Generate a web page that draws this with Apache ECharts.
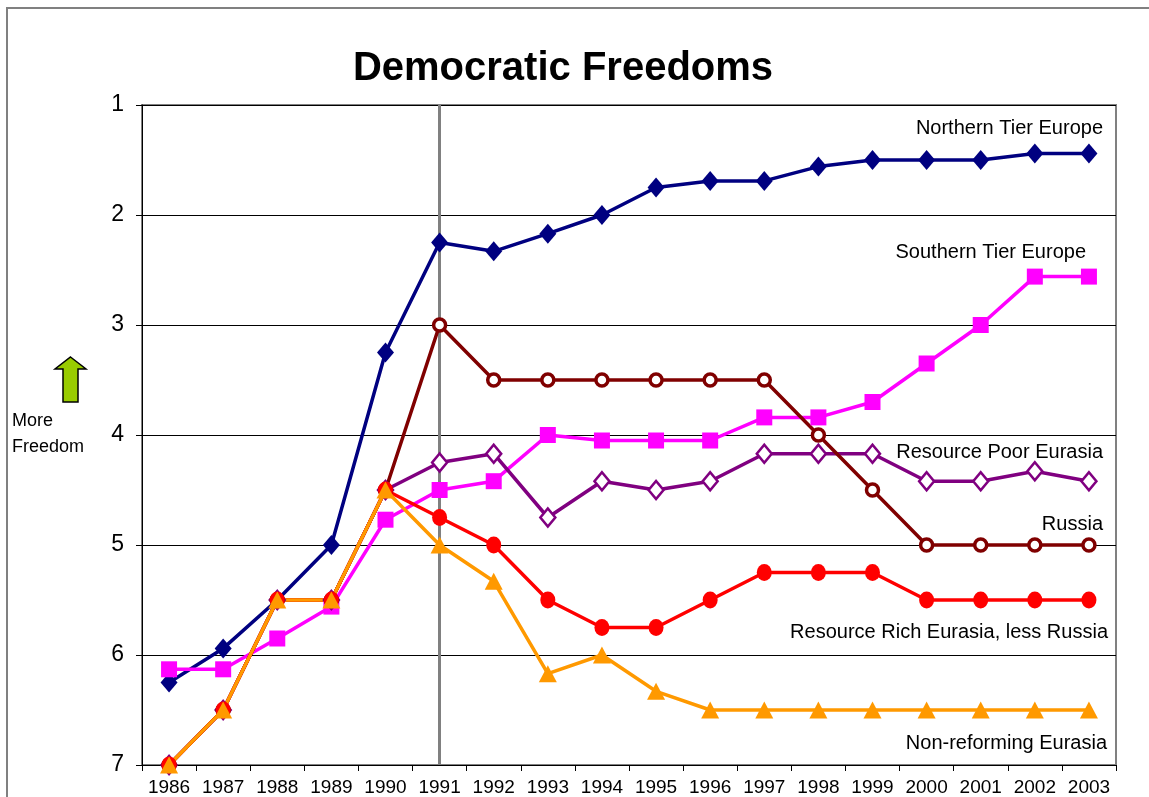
<!DOCTYPE html>
<html>
<head>
<meta charset="utf-8">
<script src="https://cdn.jsdelivr.net/npm/echarts@6/dist/echarts.min.js"></script>
<style>
html,body{margin:0;padding:0;background:#fff;}
#chart{width:1149px;height:797px;}
</style>
</head>
<body>
<div id="chart"></div>
<script>
const years = ['1986','1987','1988','1989','1990','1991','1992','1993','1994','1995','1996','1997','1998','1999','2000','2001','2002','2003'];
const yTicks = [1,2,3,4,5,6,7];
const northernTier = [6.25,5.94,5.5,5.0,3.25,2.25,2.33,2.17,2.0,1.75,1.69,1.69,1.56,1.5,1.5,1.5,1.44,1.44];
const southernTier = [6.13,6.13,5.85,5.56,4.77,4.5,4.42,4.0,4.05,4.05,4.05,3.84,3.84,3.7,3.35,3.0,2.56,2.56];
const resourcePoor = [7,6.5,5.5,5.5,4.5,4.25,4.17,4.75,4.42,4.5,4.42,4.17,4.17,4.17,4.42,4.42,4.33,4.42];
const russia = [7,6.5,5.5,5.5,4.5,3.0,3.5,3.5,3.5,3.5,3.5,3.5,4.0,4.5,5.0,5.0,5.0,5.0];
const resourceRich = [7,6.5,5.5,5.5,4.5,4.75,5.0,5.5,5.75,5.75,5.5,5.25,5.25,5.25,5.5,5.5,5.5,5.5];
const nonReforming = [7,6.5,5.5,5.5,4.5,5.0,5.33,6.17,6.0,6.33,6.5,6.5,6.5,6.5,6.5,6.5,6.5,6.5];
const seriesNames = ['Northern Tier Europe','Southern Tier Europe','Resource Poor Eurasia','Russia','Resource Rich Eurasia, less Russia','Non-reforming Eurasia'];
const dividerYear = '1991';

const FONT = '"Liberation Sans", Arial, sans-serif';
const chart = echarts.init(document.getElementById('chart'), null, {renderer:'canvas'});

function lineSeries(name, data, color, symbol, size, width, extra) {
  return Object.assign({
    name: name, type: 'line', data: data,
    symbol: symbol, symbolSize: size,
    lineStyle: {color: color, width: width},
    itemStyle: {color: color},
    animation: false, z: 3
  }, extra || {});
}

function label(text, right, y) {
  return {type:'text', right: right, top: y - 11, style:{text:text, font:'20px ' + FONT, fill:'#000', textAlign:'right'}};
}

const option = {
  backgroundColor: '#fff',
  animation: false,
  title: {
    text: 'Democratic Freedoms', left: 558, textAlign: 'center', top: 44,
    textStyle: {fontFamily: FONT, fontSize: 40, fontWeight: 'bold', color: '#000'}
  },
  grid: {left: 142, top: 105, width: 974, height: 663, show: true, borderColor: '#808080', borderWidth: 2, backgroundColor: 'transparent'},
  xAxis: {
    type: 'category', data: years, boundaryGap: true,
    axisLine: {lineStyle: {color: '#000', width: 1}},
    axisTick: {show: true, interval: 0, length: 6, lineStyle: {color: '#000'}},
    axisLabel: {interval: 0, margin: 13, fontFamily: FONT, fontSize: 19, color: '#000'},
    splitLine: {show: false}
  },
  yAxis: {
    type: 'value', inverse: true, min: yTicks[0], max: yTicks[yTicks.length-1], interval: 1,
    axisLine: {show: true, lineStyle: {color: '#000', width: 1}},
    axisTick: {show: true, length: 6, lineStyle: {color: '#000'}},
    axisLabel: {margin: 18, fontFamily: FONT, fontSize: 23, color: '#000'},
    splitLine: {show: true, lineStyle: {color: '#000', width: 1}}
  },
  graphic: [
    {type:'rect', shape:{x:7, y:8, width:1200, height:900}, style:{fill:'none', stroke:'#808080', lineWidth:2}, silent:true, z:-1},
    {type:'polygon', shape:{points:[[70.5,357],[86,369],[78,369],[78,402],[63,402],[63,369],[55,369]]}, style:{fill:'#99CC00', stroke:'#000', lineWidth:1.5}},
    {type:'text', left: 12, top: 412, style:{text:'More', font:'18px ' + FONT, fill:'#000'}},
    {type:'text', left: 12, top: 438, style:{text:'Freedom', font:'18px ' + FONT, fill:'#000'}},
    label(seriesNames[0], 1149-1103, 129),
    label(seriesNames[1], 1149-1086, 253),
    label(seriesNames[2], 1149-1103, 453),
    label(seriesNames[3], 1149-1103, 525),
    label(seriesNames[4], 1149-1108, 633),
    label(seriesNames[5], 1149-1107, 744)
  ],
  series: [
    lineSeries(seriesNames[0], northernTier, '#000080', 'diamond', [17,20], 3.5, {
      markLine: {silent: true, symbol: ['none','none'], label: {show:false},
        lineStyle: {color:'#808080', width: 3, type:'solid'},
        data: [{xAxis: dividerYear}], z: 2}
    }),
    lineSeries(seriesNames[1], southernTier, '#FF00FF', 'rect', 16, 3.5),
    lineSeries(seriesNames[2], resourcePoor, '#800080', 'diamond', [15,18], 3.5,
      {itemStyle:{color:'#fff', borderColor:'#800080', borderWidth:2.5}}),
    lineSeries(seriesNames[3], russia, '#800000', 'circle', 12, 3.5,
      {itemStyle:{color:'#fff', borderColor:'#800000', borderWidth:3.5}}),
    lineSeries(seriesNames[4], resourceRich, '#FF0000', 'circle', [15,17], 3.5),
    lineSeries(seriesNames[5], nonReforming, '#FF9900', 'triangle', [18,17], 3.5)
  ]
};
chart.setOption(option);
</script>
</body>
</html>
